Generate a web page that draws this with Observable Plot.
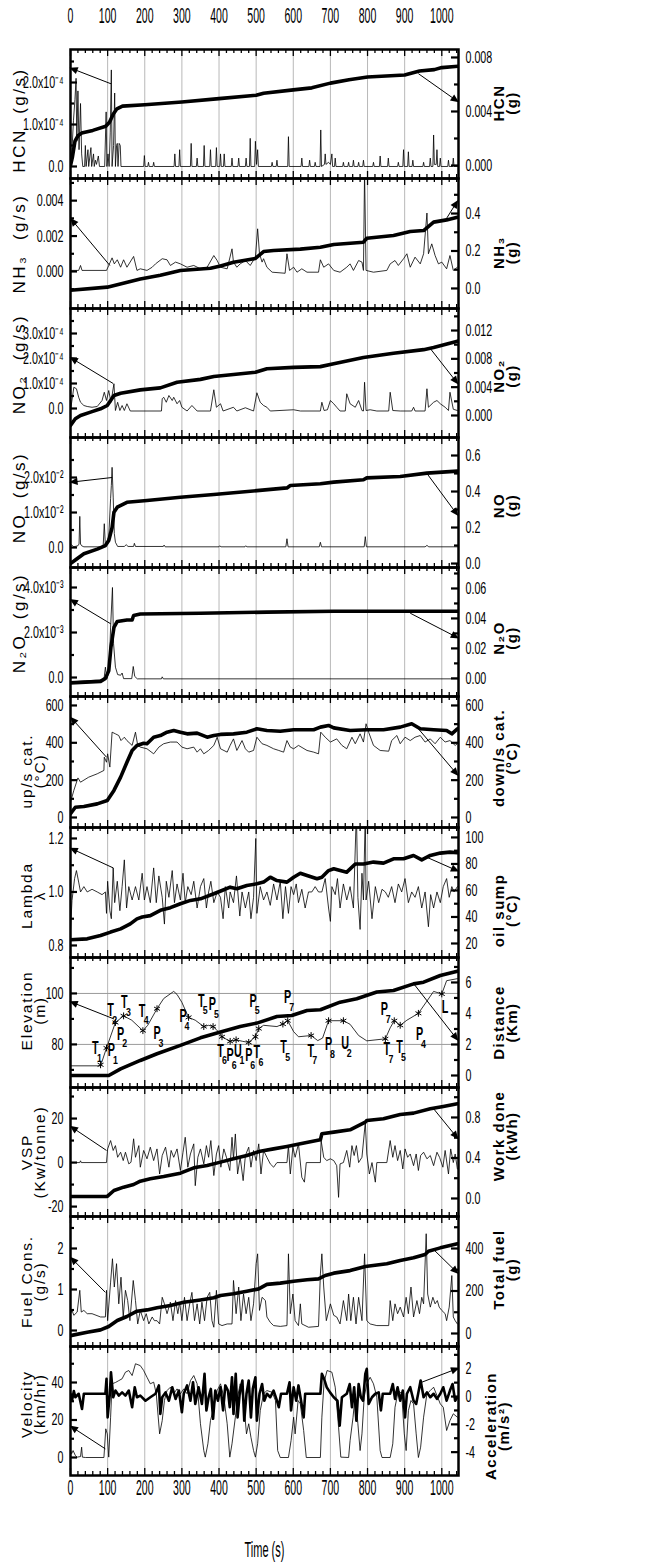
<!DOCTYPE html>
<html><head><meta charset="utf-8">
<script src="https://cdn.jsdelivr.net/npm/d3@7"></script>
<script src="https://cdn.jsdelivr.net/npm/@observablehq/plot@0.6"></script>
<style>
body{margin:0;background:#fff}
#chart{position:relative;width:646px;height:1562px;background:#fff}
#chart svg{position:absolute;left:0;overflow:visible}
</style></head><body><div id="chart"></div>
<script>
// ---------- shared axis ----------
const timeTickLabels = [0,100,200,300,400,500,600,700,800,900,1000];
const xTitle = "Time (s)";

// ---------- Panel 1: HCN (rate x1e-4 g/s, total x1e-3 g) ----------
const hcnRate = [[0,0],[4,0.4],[8,1.1],[12,1.6],[15,2.1],[17,0.6],[20,1.8],[23,0.4],[27,1.5],[30,0.3],[33,0],[38,0],[40,0.5],[42,0],[47,0.4],[49,0],[55,0.45],[57,0],[62,0.3],[64,0],[67,0.15],[70,0.05],[75,0.25],[78,0],[92,0],[96,1.3],[98,0],[101,0.3],[104,0],[107,0.8],[110,2.3],[112,0],[116,0.5],[119,1.75],[121,0],[124,0.5],[126,0.55],[128,0],[131,0.55],[134,0.5],[136,0],
[197,0],[199,0.26],[201,0],[208,0],[210,0.1],[212,0],[222,0],[224,0.1],[226,0],[279,0],[281,0.3],[283,0],[292,0],[294,0.4],[296,0],[323,0],[325,0.55],[327,0],[339,0],[341,0.2],[343,0],[358,0],[360,0.5],[362,0],[375,0],[377,0.4],[379,0],[391,0],[393,0.45],[395,0],[402,0],[404,0.3],[406,0],[412,0],[414,0.3],[416,0],[433,0],[435,0.2],[437,0],[451,0],[453,0.2],[455,0],[471,0],[473,0.2],[475,0],[482,0],[484,0.67],[486,0],[496,0],[498,0.6],[501,0.05],[504,0.4],[506,0],[541,0],[543,0.1],[545,0],[554,0],[556,0.15],[558,0],[585,0],[587,0.71],[589,0],[621,0],[623,0.2],[625,0],[642,0],[644,0.15],[646,0],[657,0],[659,0.1],[661,0],[672,0],[674,0.87],[676,0],[684,0.05],[686,0.3],[688,0.05],[695,0.1],[700,0.05],[704,0.3],[706,0],[711,0],[713,0.2],[715,0],[733,0],[735,0.1],[737,0],[747,0],[749,0.1],[751,0],[760,0],[762,0.15],[764,0],[774,0],[776,0.1],[778,0],[787,0],[789,0.15],[791,0],[814,0],[816,0.1],[818,0],[832,0],[834,0.25],[836,0],[854,0],[856,0.2],[858,0],[881,0],[883,0.1],[885,0],[895,0],[897,0.4],[899,0],[908,0],[910,0.35],[912,0],[920,0],[922,0.15],[924,0],[949,0],[951,0.1],[953,0],[967,0],[969,0.2],[971,0],[976,0],[978,0.75],[980,0.05],[985,0.05],[987,0.4],[989,0],[994,0],[996,0.2],[998,0],[1016,0],[1018,0.15],[1020,0],[1029,0],[1031,0.2],[1033,0],[1045,0]];
const hcnTotal = [[0,0],[5,0.6],[12,1.8],[20,2.2],[30,2.4],[60,2.6],[95,2.9],[105,3.2],[115,3.8],[125,4.2],[140,4.4],[200,4.5],[300,4.7],[400,4.95],[500,5.2],[520,5.35],[600,5.6],[650,5.75],[700,6.1],[750,6.35],[800,6.55],[900,6.7],[940,7.0],[980,7.1],[1000,7.25],[1045,7.35]];
const hcnRateTicks = [0,1,2], hcnRateMinor = [0.5,1.5,2.5], hcnRateLabels = ["0.0","1.0x10⁻⁴","2.0x10⁻⁴"];
const hcnTotalTicks = [0,4,8], hcnTotalMinor = [2,6], hcnTotalLabels = ["0.000","0.004","0.008"];
const hcnArrows = {left:[109,1.97,4,2.33], right:[937,6.8,1040,4.8]};

// ---------- Panel 2: NH3 (rate x1e-3 g/s, total g) ----------
const nh3Rate = [[0,0.06],[22,0.06],[27,0.34],[31,0.06],[97,0.06],[103,0.34],[112,0.77],[118,0.43],[126,0.66],[135,0.24],[143,0.66],[152,0.24],[170,0.85],[179,0.06],[188,0.15],[206,0.06],[220,0.24],[229,0.43],[247,0.72],[260,0.66],[269,0.34],[283,0.53],[296,0.43],[314,0.24],[332,0.34],[350,0.15],[368,0.24],[386,0.9],[395,0.62],[404,0.24],[422,0.15],[435,1.28],[439,0.53],[448,0.24],[457,0.43],[471,0.62],[484,0.34],[498,0.81],[504,2.41],[509,1.0],[516,0.53],[520,0.72],[529,0.24],[543,-0.04],[578,-0.1],[583,1.0],[590,0.06],[601,0.24],[610,-0.04],[623,0.15],[637,-0.04],[668,-0.04],[673,0.66],[682,0.24],[695,0.43],[709,0.06],[726,-0.04],[744,0.24],[753,0.43],[762,0.06],[776,0.62],[785,0.53],[789,0.06],[792,5.6],[796,0.06],[816,-0.04],[852,0.06],[861,0.43],[874,0.62],[883,0.34],[897,0.72],[906,1.0],[915,0.24],[928,0.81],[942,0.43],[951,1.0],[960,3.3],[964,1.0],[973,1.56],[982,0.9],[991,0.43],[1000,0.53],[1013,0.15],[1022,0.9],[1031,0.06],[1042,0.24]];
const nh3Total = [[0,-0.01],[99,0.007],[188,0.05],[242,0.07],[296,0.096],[377,0.108],[404,0.12],[439,0.14],[498,0.16],[520,0.197],[547,0.203],[619,0.21],[673,0.22],[709,0.235],[789,0.247],[798,0.268],[870,0.283],[915,0.304],[951,0.309],[978,0.354],[1013,0.366],[1042,0.38]];
const nh3RateTicks = [0,2,4], nh3RateMinor = [-1,1,3,5], nh3RateLabels = ["0.000","0.002","0.004"];
const nh3TotalTicks = [0,0.2,0.4], nh3TotalMinor = [0.1,0.3,0.5], nh3TotalLabels = ["0.0","0.2","0.4"];
const nh3Arrows = {left:[106,0.34,4,2.9], right:[1010,0.365,1040,0.46]};

// ---------- Panel 3: NO2 (rate x1e-4 g/s, total x1e-3 g) ----------
const no2Rate = [[0,-0.08],[9,0.85],[16,0.79],[22,0.45],[27,0.25],[36,0.12],[45,0.08],[58,0.05],[72,0.08],[85,0.32],[91,0.65],[97,0.32],[103,0.72],[109,0.25],[117,0.99],[121,-0.08],[127,0.25],[133,-0.08],[139,0.12],[145,-0.08],[152,0.19],[161,-0.1],[245,-0.1],[247,0.39],[251,0.45],[258,0.25],[265,0.52],[274,0.32],[278,0.45],[287,0.19],[294,0.32],[300,0.05],[314,-0.1],[327,0.12],[341,-0.1],[377,-0.1],[386,0.75],[393,0.05],[404,0.19],[411,-0.1],[439,0.05],[448,-0.1],[471,0.03],[493,-0.1],[502,0.63],[511,0.25],[520,0.12],[529,0.05],[538,-0.1],[601,-0.05],[619,-0.1],[673,-0.1],[677,0.25],[683,-0.08],[692,-0.05],[700,0.32],[709,0.19],[717,0.05],[726,-0.1],[740,-0.1],[744,0.59],[753,0.19],[767,0.05],[776,0.32],[785,-0.08],[789,-0.1],[792,1.05],[796,-0.08],[807,-0.05],[825,-0.1],[857,-0.1],[861,0.65],[868,-0.08],[888,-0.1],[919,-0.1],[924,0.05],[928,-0.1],[955,-0.1],[960,0.79],[964,0.05],[978,0.25],[987,0.32],[996,0.19],[1009,0.05],[1018,-0.08],[1022,0.65],[1031,-0.03],[1042,-0.08]];
const no2Total = [[0,-1.41],[13,-0.47],[27,0],[54,0.47],[81,0.94],[99,1.41],[117,2.82],[135,3.15],[188,3.62],[242,3.9],[287,4.7],[350,5.1],[386,5.5],[439,5.8],[498,6.1],[529,6.6],[601,6.8],[673,6.9],[709,7.3],[789,8.2],[870,8.8],[951,9.3],[978,9.6],[1042,10.5]];
const no2RateTicks = [0,1,2,3], no2RateMinor = [0.5,1.5,2.5,3.5], no2RateLabels = ["0.0","1.0x10⁻⁴","2.0x10⁻⁴","3.0x10⁻⁴"];
const no2TotalTicks = [0,4,8,12], no2TotalMinor = [2,6,10,14], no2TotalLabels = ["0.000","0.004","0.008","0.012"];
const no2Arrows = {left:[115,1.0,4,2.0], right:[969,9.45,1040,4.7]};

// ---------- Panel 4: NO (rate x1e-2 g/s, total g) ----------
const noRate = [[0,0.1],[9,0.02],[20,0.05],[23,0.1],[25,0.89],[27,0.1],[30,0.05],[36,0.02],[80,0.02],[88,0.05],[91,0.68],[94,0.05],[103,0.3],[108,1.4],[110,1.77],[112,2.29],[115,1.44],[118,0.4],[121,0.15],[127,0.03],[145,0.03],[150,0.08],[155,0.03],[170,0.03],[172,0.12],[175,0.03],[250,0.03],[252,0.07],[255,0.02],[400,0.02],[402,0.05],[405,0.02],[470,0.02],[472,0.05],[475,0.02],[580,0.02],[583,0.25],[586,0.02],[670,0.02],[673,0.15],[676,0.02],[791,0.02],[794,0.31],[797,0.02],[955,0.02],[960,0.06],[965,0.02],[1045,0.02]];
const noTotal = [[0,0],[13,0.02],[36,0.054],[72,0.08],[94,0.1],[103,0.128],[112,0.2],[117,0.285],[126,0.313],[152,0.34],[206,0.35],[296,0.368],[386,0.383],[439,0.393],[502,0.405],[583,0.42],[592,0.433],[673,0.443],[709,0.452],[789,0.465],[798,0.476],[888,0.483],[960,0.502],[1042,0.513]];
const noRateTicks = [0,1,2], noRateMinor = [0.5,1.5,2.5], noRateLabels = ["0.0","1.0x10⁻²","2.0x10⁻²"];
const noTotalTicks = [0,0.2,0.4,0.6], noTotalMinor = [0.1,0.3,0.5], noTotalLabels = ["0.0","0.2","0.4","0.6"];
const noArrows = {left:[112,2.0,4,1.87], right:[960,0.5,1040,0.276]};

// ---------- Panel 5: N2O (rate x1e-3 g/s, total g) ----------
const n2oRate = [[0,-0.2],[40,-0.15],[90,-0.1],[94,0.46],[98,-0.05],[104,0.3],[108,2.24],[113,4.0],[116,1.5],[121,0.46],[127,0.13],[135,0.1],[139,0.2],[143,-0.05],[165,-0.05],[169,0.49],[173,0.05],[180,-0.06],[245,-0.06],[247,0.03],[250,-0.06],[1045,-0.06]];
const n2oTotal = [[0,-0.003],[81,-0.002],[94,0],[103,0.005],[109,0.021],[117,0.034],[126,0.038],[152,0.039],[166,0.039],[170,0.042],[188,0.043],[350,0.0435],[529,0.0442],[709,0.0448],[1042,0.0448]];
const n2oRateTicks = [0,2,4], n2oRateMinor = [1,3], n2oRateLabels = ["0.0","2.0x10⁻³","4.0x10⁻³"];
const n2oTotalTicks = [0,0.02,0.04,0.06], n2oTotalMinor = [0.01,0.03,0.05,0.07], n2oTotalLabels = ["0.00","0.02","0.04","0.06"];
const n2oArrows = {left:[108,2.39,4,3.42], right:[915,0.0435,1040,0.0275]};

// ---------- Panel 6: catalyst temperatures (°C) ----------
const upCat = [[0,82],[9,145],[20,212],[27,189],[49,216],[72,234],[90,252],[91,323],[97,296],[100,341],[106,270],[112,457],[121,448],[130,439],[136,412],[145,430],[152,412],[166,386],[175,457],[181,386],[188,377],[206,368],[224,341],[238,377],[251,395],[269,404],[287,404],[300,377],[314,368],[332,377],[341,350],[350,368],[359,341],[372,359],[386,386],[395,430],[404,368],[422,350],[430,386],[439,421],[448,359],[462,412],[471,368],[480,350],[493,359],[502,430],[516,395],[529,386],[547,368],[561,359],[574,350],[583,412],[592,377],[601,368],[614,386],[637,359],[655,350],[668,341],[674,457],[686,430],[700,404],[717,421],[731,386],[744,368],[758,430],[767,395],[780,448],[789,404],[796,502],[803,457],[816,386],[834,359],[857,355],[865,412],[879,439],[888,395],[901,430],[915,412],[928,430],[942,439],[955,404],[969,421],[982,395],[996,430],[1009,404],[1022,412],[1036,386],[1042,395]];
const downCat = [[0,20],[13,55],[36,59],[72,73],[99,91],[117,145],[135,216],[152,296],[166,359],[179,386],[197,398],[206,395],[224,430],[242,439],[260,457],[278,466],[296,457],[314,448],[341,452],[368,430],[386,439],[404,445],[439,448],[475,457],[502,475],[529,466],[565,462],[601,470],[655,470],[673,484],[695,493],[709,480],[753,466],[798,470],[843,470],[888,484],[919,502],[942,475],[978,470],[1013,466],[1027,448],[1042,475]];
const catTicks = [0,200,400,600], catMinor = [100,300,500], catLabels = ["0","200","400","600"];
const catArrows = {left:[97,323,4,529], right:[937,475,1040,234]};

// ---------- Panel 7: lambda and oil sump (°C) ----------
const lambda = [[0,0.856],[4,0.968],[11,1.05],[16,1.08],[22,1.037],[27,1.0],[36,1.02],[45,1.0],[58,1.01],[72,1.0],[85,0.99],[94,1.0],[97,0.92],[100,1.04],[106,0.93],[110,0.9],[115,1.09],[119,0.96],[126,1.04],[133,0.93],[139,1.02],[145,1.12],[151,0.94],[157,1.02],[166,0.97],[175,1.02],[184,0.97],[193,1.07],[199,0.97],[206,1.02],[215,0.96],[224,1.09],[231,0.96],[238,1.06],[247,0.98],[253,0.88],[258,1.04],[265,0.98],[274,1.08],[280,0.96],[287,1.03],[296,0.97],[303,1.07],[309,0.96],[316,1.02],[325,0.99],[332,1.04],[341,0.94],[350,1.02],[359,1.05],[366,0.94],[372,1.0],[378,1.04],[386,0.96],[395,1.0],[404,0.98],[411,0.9],[417,1.02],[426,0.94],[430,1.0],[439,0.96],[447,1.06],[456,0.91],[462,1.0],[471,0.94],[480,1.0],[486,0.9],[493,0.98],[499,1.2],[502,0.92],[511,1.02],[520,0.97],[529,1.0],[538,0.95],[547,1.03],[556,0.97],[565,1.04],[572,0.9],[579,1.02],[587,0.92],[594,1.02],[601,0.99],[608,1.03],[614,0.96],[623,1.01],[632,0.94],[641,1.0],[650,1.0],[659,1.02],[668,1.0],[677,1.0],[686,1.05],[695,0.94],[700,0.89],[704,1.02],[713,0.99],[719,1.05],[726,0.94],[735,1.03],[744,0.97],[753,1.02],[762,0.94],[770,1.3],[774,0.98],[780,0.86],[785,1.07],[789,0.97],[794,1.3],[796,0.97],[803,1.04],[812,0.9],[821,1.02],[830,0.96],[839,1.01],[848,1.0],[856,0.98],[865,1.02],[874,0.96],[883,1.03],[892,1.0],[901,1.05],[910,0.96],[919,1.0],[928,0.98],[937,1.02],[946,0.94],[955,1.0],[964,0.87],[970,0.99],[978,0.94],[987,1.0],[996,0.96],[1004,1.02],[1013,1.05],[1020,0.98],[1027,1.02],[1033,1.0],[1042,1.02]];
const oilSump = [[0,22.8],[45,23.5],[81,26],[108,28.6],[135,31],[161,34.8],[179,38.6],[193,40],[215,41],[242,45],[269,47],[296,50],[323,52.5],[350,53.7],[386,57.5],[408,60],[430,62.5],[448,61.3],[475,63.8],[502,65],[520,66.3],[538,70],[556,67.5],[583,66.3],[601,70],[619,73],[637,71.3],[664,68.8],[677,70],[695,75],[709,76.4],[744,73.8],[767,80],[789,80],[816,81.4],[843,80.6],[870,83.9],[897,83.9],[924,86.4],[946,83.1],[969,86.4],[996,88.2],[1022,88.9],[1042,88.4]];
const lambdaTicks = [0.8,1.0,1.2], lambdaMinor = [0.9,1.1], lambdaLabels = ["0.8","1.0","1.2"];
const oilTicks = [20,40,60,80,100], oilMinor = [30,50,70,90], oilLabels = ["20","40","60","80","100"];
const lambdaArrows = {left:[115,1.09,4,1.161], right:[960,85,1040,75.1]};

// ---------- Panel 8: elevation (m) and distance (km) ----------
const elevation = [[0,71.6],[81,71.6],[97,78.6],[121,88.6],[143,91.2],[165,89.5],[195,85.4],[208,87.5],[233,94],[251,98],[278,100.8],[287,99.6],[300,96.5],[318,90.6],[336,89.5],[359,87],[372,87.5],[384,87],[399,84.9],[408,83],[430,81.2],[446,81.8],[464,81.2],[480,80.8],[498,83],[507,86.2],[520,87.5],[556,87],[572,88],[585,89.3],[601,85],[614,83],[648,83.5],[666,81.5],[679,82.5],[695,89.3],[735,89.3],[753,87.9],[776,83.5],[798,81.4],[848,82.2],[861,86.5],[872,89.3],[888,87.5],[906,89.5],[937,92.2],[960,97],[978,100.8],[1000,99.8],[1013,105],[1042,105.8]];
const distance = [[0,0],[103,0],[135,0.43],[188,0.97],[233,1.4],[296,1.94],[350,2.43],[404,2.8],[457,3.16],[502,3.38],[556,3.8],[596,3.87],[637,4.19],[673,4.24],[726,4.73],[771,4.95],[825,5.38],[870,5.48],[924,5.91],[951,6.02],[996,6.45],[1042,6.73]];
const elevStars = [[81,72],[97,78.6],[121,88.6],[143,91.2],[195,85.4],[233,94],[318,90.6],[359,87],[384,87],[408,83],[430,81.2],[446,81.8],[480,80.8],[498,83],[507,86.2],[572,88],[585,89.3],[648,83.5],[695,89.3],[735,89.3],[848,82.2],[872,89.3],[888,87.5],[937,92.2],[1000,99.8]];
const elevLabels = [["T","1",67,78.6],["P","1",110,77.8],["T","2",108,93.5],["P","2",135,84.1],["T","3",145,96.5],["T","4",193,93.2],["P","3",233,84.3],["P","4",303,90.9],["T","5",352,97.1],["P","5",382,95.8],["T","6",404,77.5],["P","6",430,75.6],["U","1",451,77.5],["P","6",480,75.6],["T","6",502,76.9],["P","5",492,97.1],["P","7",585,98.4],["T","5",574,78.8],["T","7",647,77.5],["P","8",695,80.1],["U","2",740,80.3],["P","7",845,93.9],["T","7",852,78.2],["T","5",886,78.8],["P","4",940,83.8],["L","",1009,94.5]];
const elevTicks = [80,100], elevMinor = [70,90,110], elevLabelsTick = ["80","100"];
const distTicks = [0,2,4,6], distMinor = [1,3,5,7], distLabels = ["0","2","4","6"];
const elevGrid = [80,100];
const elevArrows = {left:[117,90,4,96.5], right:[925,5.9,1040,2.37]};

// ---------- Panel 9: VSP (kW/tonne) and work done (kWh) ----------
const vsp = [[0,0],[25,0],[27,0.8],[29,0],[97,0],[100,6.2],[108,10],[115,5.5],[121,7.7],[127,2.4],[135,4.7],[142,0.9],[148,4.7],[157,-0.6],[163,0.15],[170,10.8],[175,2.4],[184,7.7],[188,-2.1],[197,5.5],[206,1.7],[215,7],[224,0.9],[233,6.2],[240,-5.2],[247,3.2],[256,7],[265,-2.1],[271,5.5],[278,2.4],[287,6.2],[296,-3.6],[303,4.7],[309,11.5],[316,-2.1],[323,3.9],[332,8.5],[336,-10.5],[343,2.4],[350,6.2],[359,-0.6],[366,7.7],[372,2.4],[378,10],[386,-5.9],[393,3.9],[399,7.7],[405,-2.1],[413,6.2],[420,2.4],[429,-3.6],[435,11.5],[439,1.7],[444,13],[450,-5.2],[457,2.4],[465,-8.2],[471,3.2],[480,7],[486,-2.1],[493,5.5],[500,0.9],[507,8.5],[513,-5.2],[520,5.5],[529,2.4],[538,-0.6],[547,-2.1],[556,0],[583,0],[587,7.7],[592,-5.2],[599,7],[605,2.4],[614,8.5],[623,-6.7],[630,-8.9],[635,0],[673,0],[675,10],[682,2.4],[690,0.9],[700,1.7],[709,0.9],[717,-1.4],[722,-15.8],[726,-0.6],[735,0],[744,5.5],[752,-2.1],[758,7.7],[764,3.2],[770,7.7],[776,0],[785,2.4],[794,18.3],[798,3.9],[805,-5.2],[812,0],[821,-8.9],[825,0],[852,0],[861,10],[868,2.4],[874,7.7],[881,0.9],[888,5.5],[895,-2.9],[901,6.2],[908,2.4],[915,3.9],[924,-1.4],[931,3.9],[937,-3.6],[943,3.2],[951,4.7],[960,1.7],[969,3.2],[978,-1.4],[987,4.7],[994,2.4],[1003,-2.1],[1009,5.5],[1018,-5.2],[1024,6.2],[1031,0],[1036,3.9],[1042,-2.9]];
const workDone = [[0,0.02],[99,0.02],[117,0.079],[143,0.112],[170,0.138],[188,0.171],[215,0.194],[251,0.217],[296,0.25],[332,0.303],[368,0.326],[404,0.359],[439,0.392],[475,0.425],[511,0.467],[547,0.49],[583,0.514],[619,0.54],[673,0.579],[677,0.639],[709,0.655],[753,0.678],[794,0.754],[798,0.77],[843,0.787],[888,0.83],[924,0.843],[969,0.886],[1004,0.909],[1042,0.935]];
const vspTicks = [-20,0,20], vspMinor = [-10,10,30], vspLabels = ["-20","0","20"];
const workTicks = [0,0.4,0.8], workMinor = [0.2,0.6,1.0], workLabels = ["0.0","0.4","0.8"];
const vspArrows = {left:[97,5.5,4,16], right:[978,0.886,1040,0.606]};

// ---------- Panel 10: fuel consumption (g/s) and total fuel (g) ----------
const fuelRate = [[0,0.41],[4,0.49],[9,0.37],[18,0.45],[25,0.98],[29,0.45],[36,0.49],[45,0.41],[58,0.41],[81,0.33],[94,0.33],[97,0.98],[100,0.24],[108,1.18],[113,1.75],[118,1.06],[124,1.63],[130,0.65],[136,1.3],[142,0.33],[148,0.98],[154,0.73],[160,0.24],[169,1.22],[175,0.73],[181,0.16],[188,0.49],[197,0.24],[204,0.41],[211,0.16],[220,0.33],[226,0.24],[233,0.24],[240,0.16],[247,0.81],[253,0.65],[260,0.41],[269,0.69],[276,0.24],[283,0.73],[289,0.41],[294,0.69],[300,0.24],[307,0.81],[314,0.24],[321,0.65],[327,0.93],[334,0.24],[341,0.65],[348,0.16],[354,0.69],[361,0.24],[368,0.81],[375,0.93],[381,0.24],[386,0.08],[393,0.98],[399,0.16],[408,0.12],[422,0.16],[435,0.16],[439,1.22],[446,0.41],[453,1.06],[459,0.24],[466,0.89],[473,0.41],[480,0.81],[486,0.24],[493,0.65],[500,1.63],[504,1.87],[509,0.49],[516,0.81],[525,0.73],[529,0.33],[538,0.2],[547,0.12],[565,0.1],[583,0.12],[587,1.87],[592,0.41],[599,0.89],[605,0.24],[614,0.12],[619,0.65],[623,0.16],[641,0.08],[668,0.1],[673,1.38],[677,1.87],[682,1.06],[689,0.24],[700,0.65],[709,0.37],[717,0.33],[726,0.16],[735,0.73],[744,0.24],[749,0.89],[755,0.24],[762,0.81],[769,0.16],[776,0.81],[785,0.24],[792,1.87],[798,0.24],[807,0.16],[825,0.12],[857,0.12],[861,0.73],[868,0.24],[874,0.65],[881,0.41],[888,0.57],[897,0.33],[904,0.81],[910,0.41],[917,1.06],[924,0.33],[933,0.73],[940,0.41],[946,0.81],[951,0.65],[958,2.36],[962,0.89],[969,0.57],[976,0.81],[982,0.65],[988,0.73],[993,0.57],[1000,0.49],[1009,0.41],[1013,0.24],[1020,0.57],[1027,1.34],[1031,0.33],[1036,0.24],[1042,0.16]];
const fuelTotal = [[0,-10],[45,6],[81,17],[103,33],[126,61],[152,80],[179,105],[206,111],[233,121],[269,132],[305,147],[350,158],[386,168],[404,179],[439,187],[475,199],[507,210],[529,231],[565,237],[601,246],[637,253],[668,257],[686,273],[709,284],[753,296],[794,315],[852,328],[888,344],[924,356],[955,372],[964,387],[996,403],[1042,422]];
const fuelTicks = [0,1,2], fuelMinor = [0.5,1.5,2.5], fuelLabels = ["0","1","2"];
const totalFuelTicks = [0,200,400], totalFuelMinor = [100,300,500], totalFuelLabels = ["0","200","400"];
const fuelArrows = {left:[94,0.93,4,1.75], right:[978,395,1040,289]};

// ---------- Panel 11: velocity (km/hr) and acceleration (m/s²) ----------
const velocity = [[0,3.7],[3,2],[7,3.7],[13,1.1],[18,0.2],[27,0.5],[30,5.5],[32,0.2],[40,0],[90,0],[95,15.3],[99,12.6],[103,0.2],[108,21.5],[112,39.3],[121,40],[130,41],[139,42],[148,45.5],[157,46.4],[166,43.7],[175,50],[188,49],[197,46.4],[206,42.8],[215,39.3],[224,40.2],[231,34],[240,12.6],[247,19.7],[253,30.4],[260,35.7],[269,37.5],[278,34],[287,36.6],[296,34],[305,36.6],[314,34],[323,41],[332,43.7],[341,39.3],[350,18],[359,3.7],[363,0.2],[370,7.3],[377,19.7],[386,26.8],[395,35.7],[404,39.3],[413,32.2],[422,18],[429,0.2],[435,7.3],[444,21.5],[450,32.2],[457,39.3],[466,30.4],[474,12.6],[480,18],[486,10.8],[493,3.7],[498,0.2],[504,7.3],[511,25],[520,34],[529,35.7],[543,34.8],[552,30.4],[558,3.7],[565,0],[587,0],[594,9],[601,21.5],[605,12.6],[613,30.4],[619,28.6],[628,14.4],[635,0],[673,0],[677,21.5],[683,40.2],[691,46.4],[704,45.5],[713,37.5],[722,16.2],[728,0.2],[749,0],[753,9],[761,21.5],[767,34],[774,18],[780,3.7],[785,12.6],[791,32.2],[798,39.3],[807,42.8],[816,39.3],[825,32.2],[834,3.7],[839,0],[861,0],[868,7.3],[874,26.8],[883,35.7],[892,34],[899,12.6],[904,3.7],[910,25],[917,30.4],[924,28.6],[931,12.6],[937,0],[943,5.5],[951,21.5],[960,34],[969,35.7],[978,37.5],[987,33],[996,28.6],[1004,26.8],[1013,14.4],[1022,19.7],[1031,23.3],[1042,21.5]];
const acceleration = [[0,0.2],[4,-0.3],[9,0.4],[13,-0.05],[22,0.2],[31,-0.9],[36,0.2],[94,0.2],[97,1.27],[100,-1.5],[106,0.2],[109,1.75],[115,-0.05],[121,0.43],[130,0.07],[139,0.3],[148,0.07],[157,0.43],[166,-0.77],[173,0.67],[179,-0.05],[188,0.07],[202,-0.3],[215,-0.05],[229,0.2],[238,0.8],[242,-1.25],[247,-0.05],[256,0.3],[265,-0.3],[274,0.67],[283,-0.17],[292,0.43],[300,-1.13],[305,0.2],[314,0.8],[323,-0.3],[330,1.03],[336,-0.53],[345,0.67],[354,-0.53],[361,1.63],[366,-1.0],[372,-0.05],[378,0.55],[384,-1.6],[390,0.43],[397,-0.3],[404,0.67],[411,-1.0],[417,0.8],[424,0.43],[429,-0.77],[435,1.39],[439,-1.25],[445,1.63],[450,-1.5],[456,0.3],[463,1.15],[468,-1.73],[474,0.2],[480,1.15],[486,-1.5],[491,0.55],[498,1.39],[502,-1.73],[509,0.2],[516,0.9],[522,-0.3],[529,0.2],[538,-0.05],[547,0.43],[556,-0.3],[561,-0.77],[567,0.2],[583,0.2],[590,1.03],[594,-1.0],[601,0.67],[608,-0.3],[614,0.8],[621,-0.3],[628,-1.5],[632,0.2],[673,0.2],[677,1.63],[683,1.27],[690,0.67],[699,0.3],[709,-0.05],[719,-0.3],[725,-2.1],[731,-0.05],[744,0.2],[752,0.9],[758,-0.77],[764,0.67],[770,-1.73],[776,0.9],[782,-0.05],[788,-0.3],[794,1.63],[798,2.0],[803,-0.53],[812,-0.05],[821,0.2],[830,0.3],[836,-1.0],[841,0.2],[861,0.2],[868,0.9],[874,-0.17],[881,0.67],[888,-0.3],[895,0.43],[901,-1.5],[906,0.2],[915,0.67],[924,-0.3],[931,-0.53],[937,0.3],[943,1.15],[951,-0.05],[960,0.3],[969,-0.05],[978,0.2],[987,-0.17],[996,0.2],[1004,0.67],[1013,-0.3],[1022,0.43],[1029,0.9],[1036,-0.3],[1042,-0.05]];
const velTicks = [0,20,40], velMinor = [10,30,50], velLabels = ["0","20","40"];
const accTicks = [-4,-2,0,2], accMinor = [-3,-1,1,3], accLabels = ["-4","-2","0","2"];
const velArrows = {left:[94,4.6,4,16.2], right:[946,1.03,1040,1.99]};

// ---------- layout ----------
const W = 646, ML = 70, MR = 188, PW = W - ML - MR;
const tops = [49,178,308,437,567,696,827,957,1087,1216,1346,1475];
const xDomain = [0, 1045];
const xMajor = d3.range(0, 1001, 100);
const xMinor = d3.range(20, 1045, 20).filter(d => d % 100 !== 0);
const FONT = "'Liberation Sans', Arial, Helvetica, sans-serif";

const panels = [
  {L:{data:hcnRate, domain:[-0.286,2.786], ticks:hcnRateTicks, minor:hcnRateMinor, labels:hcnRateLabels, title:"HCN  (g/s)", arrow:hcnArrows.left, titleDy: 6},
   R:{data:hcnTotal, domain:[-0.963,8.59], ticks:hcnTotalTicks, minor:hcnTotalMinor, labels:hcnTotalLabels, title:"HCN\n(g)", arrow:hcnArrows.right, titleDy: -11}},
  {L:{data:nh3Rate, domain:[-2.09,5.25], ticks:nh3RateTicks, minor:nh3RateMinor, labels:nh3RateLabels, title:"NH₃  (g/s)", arrow:nh3Arrows.left},
   R:{data:nh3Total, domain:[-0.107,0.587], ticks:nh3TotalTicks, minor:nh3TotalMinor, labels:nh3TotalLabels, title:"NH₃\n(g)", arrow:nh3Arrows.right, titleDy: 9}},
  {L:{data:no2Rate, domain:[-1.16,4.0], ticks:no2RateTicks, minor:no2RateMinor, labels:no2RateLabels, title:"NO₂  (g/s)", arrow:no2Arrows.left, titleDy: -9},
   R:{data:no2Total, domain:[-3.11,15.11], ticks:no2TotalTicks, minor:no2TotalMinor, labels:no2TotalLabels, title:"NO₂\n(g)", arrow:no2Arrows.right, titleDy: 3}},
  {L:{data:noRate, domain:[-0.571,3.143], ticks:noRateTicks, minor:noRateMinor, labels:noRateLabels, title:"NO  (g/s)", arrow:noArrows.left, titleDy: -5},
   R:{data:noTotal, domain:[-0.022,0.7], ticks:noTotalTicks, minor:noTotalMinor, labels:noTotalLabels, title:"NO\n(g)", arrow:noArrows.right, titleDy: 3}},
  {L:{data:n2oRate, domain:[-0.844,4.889], ticks:n2oRateTicks, minor:n2oRateMinor, labels:n2oRateLabels, title:"N₂O  (g/s)", arrow:n2oArrows.left, titleDy: -9},
   R:{data:n2oTotal, domain:[-0.0121,0.074], ticks:n2oTotalTicks, minor:n2oTotalMinor, labels:n2oTotalLabels, title:"N₂O\n(g)", arrow:n2oArrows.right, titleDy: 6}},
  {L:{data:upCat, domain:[-53.6,648], ticks:catTicks, minor:catMinor, labels:catLabels, title:"up/s cat.\n(°C)", arrow:catArrows.left, titleDy: 9},
   R:{data:downCat, domain:[-53.6,648], ticks:catTicks, minor:catMinor, labels:catLabels, title:"down/s cat.\n(°C)", arrow:catArrows.right, titleDy: -4}},
  {L:{data:lambda, domain:[0.755,1.241], ticks:lambdaTicks, minor:lambdaMinor, labels:lambdaLabels, title:"Lambda\nλ", arrow:lambdaArrows.left, titleDy: 3},
   R:{data:oilSump, domain:[9.43,107.5], ticks:oilTicks, minor:oilMinor, labels:oilLabels, title:"oil sump\n(°C)", arrow:lambdaArrows.right, titleDy: 18}},
  {L:{data:elevation, domain:[63.1,114.1], ticks:elevTicks, minor:elevMinor, labels:elevLabelsTick, title:"Elevation\n(m)", arrow:elevArrows.left, titleDy: -12},
   R:{data:distance, domain:[-0.774,7.61], ticks:distTicks, minor:distMinor, labels:distLabels, title:"Distance\n(Km)", arrow:elevArrows.right},
   hgrid: elevGrid, stars: elevStars, marks: elevLabels},
  {L:{data:vsp, domain:[-24.5,34.1], ticks:vspTicks, minor:vspMinor, labels:vspLabels, title:"VSP\n(Kw/tonne)", arrow:vspArrows.left},
   R:{data:workDone, domain:[-0.178,1.096], ticks:workTicks, minor:workMinor, labels:workLabels, title:"Work done\n(kWh)", arrow:vspArrows.right, titleDy: -16}},
  {L:{data:fuelRate, domain:[-0.39,2.78], ticks:fuelTicks, minor:fuelMinor, labels:fuelLabels, title:"Fuel Cons.\n(g/s)", arrow:fuelArrows.left},
   R:{data:fuelTotal, domain:[-61.2,550.6], ticks:totalFuelTicks, minor:totalFuelMinor, labels:totalFuelLabels, title:"Total fuel\n(g)", arrow:fuelArrows.right, titleDy: -12}},
  {L:{data:velocity, domain:[-9.6,59.2], ticks:velTicks, minor:velMinor, labels:velLabels, title:"Velocity\n(km/hr)", arrow:velArrows.left, titleDy: -7},
   R:{data:acceleration, domain:[-5.68,3.6], ticks:accTicks, minor:accMinor, labels:accLabels, title:"Acceleration\n(m/s²)", arrow:velArrows.right, width: 2.6, titleDx: 40, titleDy: 15}}
];

const container = document.getElementById("chart");

// compress glyphs horizontally around each text's own anchor
function squeeze(svg, tag, factor) {
  svg.querySelectorAll(`g[aria-description="${tag}"] text`).forEach(t => {
    const tr = t.getAttribute("transform") || "";
    t.setAttribute("transform", `${tr} scale(${factor},1)`);
  });
}
function spacing(svg, tag, px) {
  svg.querySelectorAll(`g[aria-description="${tag}"] text`).forEach(t => t.style.letterSpacing = px + "px");
}
function fixMarkers(svg) {
  svg.querySelectorAll("marker").forEach(m => {
    m.setAttribute("markerWidth", 14);
    m.setAttribute("markerHeight", 14);
    m.setAttribute("fill", "black");
    m.setAttribute("stroke", "none");
    const p = m.querySelector("path");
    if (p) p.setAttribute("d", "M-4,-2.6L2,0L-4,2.6Z");
  });
}

panels.forEach((P, i) => {
  const top = tops[i], h = tops[i + 1] - top;
  const last = i === panels.length - 1;
  const mt = i === 0 ? 49 : 0, mb = last ? 87 : 0;
  const base = {
    width: W, height: h + mt + mb, marginLeft: ML, marginRight: MR, marginTop: mt, marginBottom: mb,
    x: {domain: xDomain, axis: null},
    style: {background: "transparent", overflow: "visible", fontFamily: FONT, color: "black"}
  };
  const L = P.L, R = P.R;
  const two = L.title.includes("\n");
  const marksA = [
    Plot.ruleX(xMajor.slice(1), {x: d => d, stroke: "#b8b8b8", strokeWidth: 1}),
    P.hgrid ? Plot.ruleY(P.hgrid, {y: d => d, stroke: "#9a9a9a", strokeWidth: 1}) : null,
    Plot.line(L.data, {x: d => d[0], y: d => d[1], stroke: "black", strokeWidth: 0.8, clip: true}),
    P.stars ? Plot.dot(P.stars, {x: d => d[0], y: d => d[1], symbol: "asterisk", r: 3.2, stroke: "black", strokeWidth: 1}) : null,
    P.marks ? Plot.text(P.marks, {x: d => d[2], y: d => d[3], text: d => d[0], fontSize: 18, fontWeight: "bold", ariaDescription: "elevletter"}) : null,
    P.marks ? Plot.text(P.marks, {x: d => d[2], y: d => d[3], text: d => d[1], fontSize: 11, fontWeight: "bold", dx: 4, dy: 10, ariaDescription: "elevsub"}) : null,
    Plot.link([L.arrow], {x1: d => d[0], y1: d => d[1], x2: d => d[2], y2: d => d[3], stroke: "black", strokeWidth: 1, markerEnd: "arrow"}),
    Plot.ruleY(L.ticks, {y: d => d, insetRight: PW - 7, strokeWidth: 2.2}),
    Plot.ruleY(L.minor, {y: d => d, insetRight: PW - 4, strokeWidth: 2.2}),
    Plot.text(L.ticks, {y: d => d, frameAnchor: "left", dx: -7, textAnchor: "end", lineAnchor: "middle", text: (d, j) => L.labels[j], fontSize: 17, ariaDescription: "ytick"}),
    Plot.text([L.title], {frameAnchor: "left", dx: two ? -36 : -50, dy: L.titleDy || 0, rotate: -90, textAnchor: "middle", lineAnchor: "middle", text: d => d, fontSize: two ? 15.5 : 17, lineHeight: 0.85, ariaDescription: two ? "ytitle" : "ytitle1"}),
    i === 0 ? Plot.text(timeTickLabels, {x: d => d, frameAnchor: "top", dy: -34, lineAnchor: "middle", text: d => String(d), fontSize: 22, ariaDescription: "xtick"}) : null,
    last ? Plot.text(timeTickLabels, {x: d => d, frameAnchor: "bottom", dy: 12, lineAnchor: "middle", text: d => String(d), fontSize: 22, ariaDescription: "xtick"}) : null,
    last ? Plot.text([xTitle], {frameAnchor: "bottom", dy: 74, lineAnchor: "middle", text: d => d, fontSize: 22, ariaDescription: "xtitle"}) : null
  ].filter(Boolean);
  const marksB = [
    Plot.line(R.data, {x: d => d[0], y: d => d[1], stroke: "black", strokeWidth: R.width || 3.6, strokeLinejoin: "round", clip: true}),
    Plot.link([R.arrow], {x1: d => d[0], y1: d => d[1], x2: d => d[2], y2: d => d[3], stroke: "black", strokeWidth: 1, markerEnd: "arrow"}),
    Plot.ruleY(R.ticks, {y: d => d, insetLeft: PW - 7, strokeWidth: 2.2}),
    Plot.ruleY(R.minor, {y: d => d, insetLeft: PW - 4, strokeWidth: 2.2}),
    Plot.text(R.ticks, {y: d => d, frameAnchor: "right", dx: 7, textAnchor: "start", lineAnchor: "middle", text: (d, j) => R.labels[j], fontSize: 17, ariaDescription: "ytick"}),
    Plot.text([R.title], {frameAnchor: "right", dx: R.titleDx || 48, dy: R.titleDy || 0, rotate: -90, textAnchor: "middle", lineAnchor: "middle", text: d => d, fontSize: 15, fontWeight: "bold", lineHeight: 0.87, ariaDescription: "ytitle2"}),
    Plot.ruleX(xMajor, {x: d => d, insetBottom: h - 7, strokeWidth: 1.3}),
    Plot.ruleX(xMinor, {x: d => d, insetBottom: h - 4, strokeWidth: 1.3}),
    Plot.ruleX(xMajor, {x: d => d, insetTop: h - 7, strokeWidth: 1.3}),
    Plot.ruleX(xMinor, {x: d => d, insetTop: h - 4, strokeWidth: 1.3}),
    Plot.frame({stroke: "black", strokeWidth: 2.5})
  ];
  const a = Plot.plot({...base, y: {domain: L.domain, axis: null}, marks: marksA});
  const b = Plot.plot({...base, y: {domain: R.domain, axis: null}, marks: marksB});
  [a, b].forEach(s => {
    s.style.top = (top - mt) + "px";
    container.appendChild(s);
    squeeze(s, "ytick", 0.63);
    squeeze(s, "xtick", 0.48);
    squeeze(s, "xtitle", 0.5);
    squeeze(s, "elevletter", 0.6);
    squeeze(s, "elevsub", 0.8);
    spacing(s, "ytitle", 1.8);
    spacing(s, "ytitle1", 2.5);
    spacing(s, "ytitle2", 1.5);
    fixMarkers(s);
  });
});
</script>
</body></html>
